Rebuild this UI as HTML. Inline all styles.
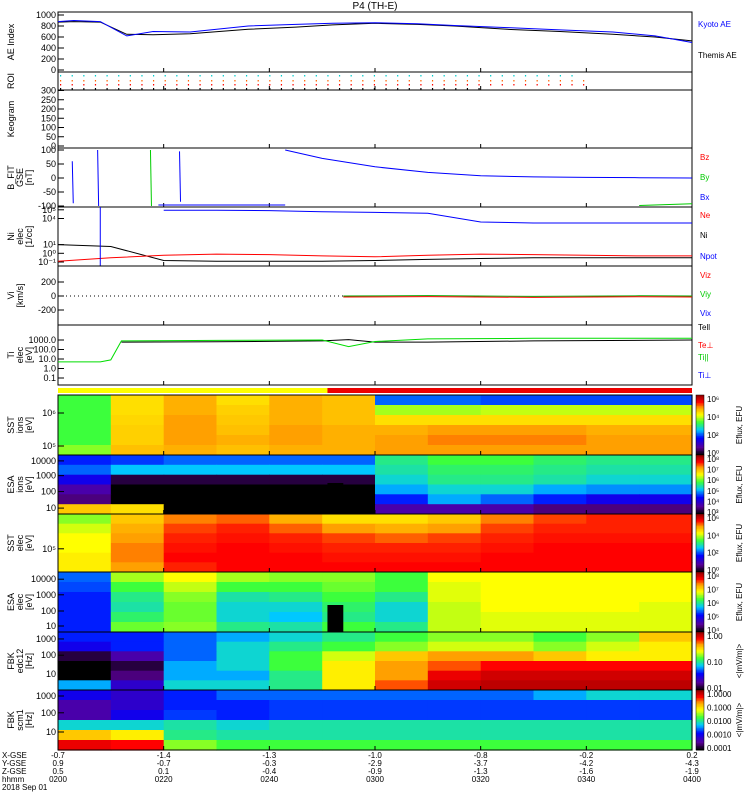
<!DOCTYPE html>
<html><head><meta charset="utf-8"><style>
body{margin:0;background:#fff;}
svg{display:block;font-family:"Liberation Sans",sans-serif;}
</style></head><body>
<svg id="c" width="750" height="800" viewBox="0 0 750 800"></svg>
<script>
const times=[0,10,20,30,40,50,60,70,80,90,100,110,120];
const aeTimes=[0,3,8,13,18,25,36,45,52,60,68,75,85,95,105,113,120];
const aeKyoto=[880,900,880,620,700,690,800,830,850,860,840,810,770,730,690,620,500];
const aeThemis=[870,880,870,650,640,660,740,780,820,850,830,800,740,700,650,600,530];
const niBlack=[10,6,0.15,0.12,0.12,0.12,0.15,0.2,0.25,0.3,0.3,0.3,0.3];
const niRed=[0.12,0.3,0.6,0.8,0.7,0.5,0.4,0.6,0.8,0.7,0.6,0.5,0.5];
const niBlue=[null,null,90000,90000,80000,60000,50000,40000,4000,3000,3000,3000,3000];
const tiTimes=[0,8,10,12,30,50,55,60,70,90,120];
const tiGreen=[5,5,8,800,900,1000,200,700,1300,1500,1500];
const tiBlackTimes=[12,30,50,55,60,70,90,120];
const tiBlack=[600,650,800,1100,600,600,800,1000];
const bxTimes=[43,50,60,70,80,90,100,110,120];
const bxVals=[100,70,40,20,8,4,2,1,0];
const viTimes=[54,70,90,110,120];
const viVals=[0,5,-5,3,0];
const xTickTimes=[0,20,40,60,80,100,120];
const xTickHHMM=["0200","0220","0240","0300","0320","0340","0400"];
const xTickX=["-0.7","-1.4","-1.3","-1.0","-0.8","-0.2","0.2"];
const xTickY=["0.9","-0.7","-0.3","-2.9","-3.7","-4.2","-4.3"];
const xTickZ=["0.5","0.1","-0.4","-0.9","-1.3","-1.6","-1.9"];
const sstIon=[[0.55,0.72,0.78,0.72,0.78,0.76,0.35,0.35,0.33,0.33,0.33,0.33],[0.55,0.72,0.78,0.74,0.78,0.76,0.62,0.62,0.64,0.64,0.64,0.64],[0.55,0.73,0.8,0.75,0.78,0.76,0.72,0.72,0.72,0.72,0.72,0.72],[0.55,0.74,0.8,0.76,0.8,0.78,0.78,0.8,0.8,0.8,0.78,0.78],[0.55,0.74,0.8,0.78,0.8,0.78,0.8,0.82,0.82,0.82,0.8,0.8],[0.6,0.76,0.78,0.76,0.78,0.78,0.8,0.8,0.8,0.8,0.8,0.8]];
const esaIon=[[0.3,0.32,0.35,0.35,0.35,0.35,0.5,0.55,0.55,0.52,0.5,0.5],[0.35,0.42,0.42,0.42,0.42,0.42,0.48,0.52,0.52,0.5,0.48,0.48],[0.25,0.05,0.05,0.05,0.05,0.05,0.45,0.5,0.5,0.48,0.45,0.45],[0.15,0,0,0,0,0,0.4,0.45,0.45,0.4,0.38,0.38],[0.1,0,0,0,0,0,0.3,0.4,0.35,0.3,0.25,0.25],[0.75,0.72,0,0,0,0,0.15,0.15,0.15,0.1,0.1,0.1]];
const sstEle=[[0.6,0.75,0.82,0.84,0.78,0.72,0.72,0.75,0.82,0.86,0.88,0.88],[0.65,0.78,0.86,0.88,0.84,0.8,0.78,0.8,0.86,0.88,0.88,0.88],[0.68,0.8,0.88,0.89,0.88,0.86,0.84,0.86,0.88,0.89,0.89,0.89],[0.68,0.82,0.89,0.9,0.89,0.88,0.88,0.88,0.89,0.9,0.9,0.9],[0.7,0.82,0.9,0.9,0.9,0.89,0.89,0.89,0.9,0.9,0.9,0.9],[0.7,0.8,0.88,0.9,0.9,0.9,0.9,0.9,0.9,0.9,0.9,0.9]];
const esaEle=[[0.35,0.62,0.68,0.62,0.6,0.6,0.55,0.68,0.68,0.68,0.68,0.68],[0.33,0.55,0.64,0.55,0.55,0.58,0.55,0.66,0.68,0.68,0.68,0.68],[0.3,0.5,0.6,0.48,0.5,0.55,0.5,0.66,0.68,0.68,0.68,0.68],[0.3,0.48,0.58,0.45,0.45,0.52,0.45,0.64,0.68,0.68,0.68,0.66],[0.3,0.52,0.58,0.45,0.42,0.5,0.45,0.64,0.66,0.66,0.66,0.66],[0.3,0.58,0.6,0.5,0.48,0.55,0.5,0.64,0.66,0.66,0.66,0.66]];
const fbkEdc=[[0.3,0.3,0.35,0.4,0.45,0.5,0.55,0.6,0.6,0.55,0.6,0.75],[0.25,0.3,0.35,0.45,0.5,0.55,0.6,0.65,0.65,0.6,0.65,0.7],[0.05,0.15,0.35,0.45,0.55,0.65,0.75,0.8,0.8,0.75,0.7,0.7],[0,0.05,0.4,0.45,0.55,0.7,0.8,0.85,0.9,0.9,0.9,0.9],[0,0.1,0.4,0.4,0.5,0.7,0.8,0.92,0.95,0.95,0.95,0.95],[0.4,0.2,0.45,0.45,0.5,0.7,0.85,0.95,0.97,0.97,0.97,0.97]];
const fbkScm=[[0.25,0.2,0.3,0.35,0.35,0.35,0.35,0.35,0.35,0.4,0.45,0.45],[0.15,0.2,0.3,0.3,0.32,0.32,0.32,0.32,0.32,0.32,0.32,0.32],[0.15,0.25,0.32,0.3,0.32,0.32,0.32,0.32,0.32,0.32,0.32,0.32],[0.45,0.45,0.48,0.45,0.48,0.48,0.48,0.48,0.48,0.48,0.48,0.48],[0.75,0.7,0.5,0.48,0.48,0.48,0.48,0.48,0.48,0.48,0.48,0.48],[0.92,0.9,0.6,0.55,0.55,0.55,0.55,0.55,0.55,0.55,0.55,0.55]];

const svg=document.getElementById('c');
const NS='http://www.w3.org/2000/svg';
const X0=58,X1=692;
function x(t){return X0+t*(X1-X0)/120;}
function el(tag,attrs,name,parent){const e=document.createElementNS(NS,tag);for(const k in attrs)e.setAttribute(k,attrs[k]);


(parent||svg).appendChild(e);return e;}
function txt(s,xx,yy,name,opts){opts=opts||{};const t=el('text',{x:xx,y:yy,'font-size':opts.fs||9,fill:opts.fill||'#000','text-anchor':opts.anchor||'start'},name);if(opts.rot)t.setAttribute('transform','rotate(-90 '+xx+' '+yy+')');t.textContent=s;return t;}
const stops=[[0,[0,0,0]],[0.12,[90,0,150]],[0.28,[0,0,255]],[0.42,[0,200,255]],[0.55,[60,255,60]],[0.68,[255,255,0]],[0.8,[255,160,0]],[0.9,[255,0,0]],[1,[160,0,0]]];
function cmap(v){v=Math.max(0,Math.min(1,v));for(let i=1;i<stops.length;i++){if(v<=stops[i][0]){const a=stops[i-1],b=stops[i],f=(v-a[0])/(b[0]-a[0]);return 'rgb('+a[1].map((c,j)=>Math.round(c+(b[1][j]-c)*f)).join(',')+')';}}return 'rgb(160,0,0)';}

txt('P4 (TH-E)',375,9,'plot-title',{anchor:'middle',fs:10});

function frame(y0,y1,name){el('rect',{x:X0,y:y0,width:X1-X0,height:y1-y0,fill:'none',stroke:'#000','stroke-width':1},name);
 xTickTimes.forEach(t=>{el('line',{x1:x(t),x2:x(t),y1:y1,y2:y1-4,stroke:'#000'},'x-tick');});}
function ylab(lines,y0,y1,name){const cy=(y0+y1)/2;lines.forEach((s,i)=>txt(s,14+i*9,cy,name,{rot:1,anchor:'middle',fs:9}));}
function yticks(vals,labels,fn,name){vals.forEach((v,i)=>{const yy=fn(v);el('line',{x1:X0,x2:X0+6,y1:yy,y2:yy,stroke:'#000'},name+'-tick');txt(labels[i],X0-2,yy+3,name+'-label',{anchor:'end'});});}
function poly(ts,vs,fn,color,name){const pts=[];ts.forEach((t,i)=>{if(vs[i]!==null)pts.push(x(t).toFixed(1)+','+fn(vs[i]).toFixed(1));});el('polyline',{points:pts.join(' '),fill:'none',stroke:color,'stroke-width':1},name);}

const aeY=v=>70-v*0.055;
frame(12,72,'ae-panel');ylab(['AE Index'],12,72,'ae-y-title');
yticks([0,200,400,600,800,1000],['0','200','400','600','800','1000'],aeY,'ae');
poly(aeTimes,aeThemis,aeY,'#000','ae-themis-line');poly(aeTimes,aeKyoto,aeY,'#00f','ae-kyoto-line');
txt('Kyoto AE',698,27,'legend-kyoto-ae',{fill:'#00f',fs:8});txt('Themis AE',698,58,'legend-themis-ae',{fs:8});

frame(72,90,'roi-panel');ylab(['ROI'],72,90,'roi-y-title');
[[75,'#0cc',97],[80,'#f60',100],[84,'#f00',100],[88,'#000',80]].forEach(r=>{for(let t=0;t<r[2];t+=2.2)el('rect',{x:x(t)+2,y:r[0],width:1.2,height:1.5,fill:r[1]},'roi-dot');});

const kY=v=>146-v*0.185;
frame(90,148,'keogram-panel');ylab(['Keogram'],90,148,'keogram-y-title');
yticks([0,50,100,150,200,250,300],['0','50','100','150','200','250','300'],kY,'keogram');

const bY=v=>178-v*0.28;
frame(148,207,'bfield-panel');ylab(['B_FIT','GSE','[nT]'],148,207,'bfield-y-title');
yticks([-100,-50,0,50,100],['-100','-50','0','50','100'],bY,'bfield');
[[2.7,60,-90,'#00f'],[7.5,100,-100,'#00f'],[17.5,100,-100,'#0c0'],[23,95,-85,'#00f']].forEach(l=>el('line',{x1:x(l[0]),x2:x(l[0])+1,y1:bY(l[1]),y2:bY(l[2]),stroke:l[3]},'bfield-spike'));
el('line',{x1:x(19),x2:x(43),y1:bY(-100)-1,y2:bY(-100)-1,stroke:'#00f'},'bx-clipped');
poly(bxTimes,bxVals,bY,'#00f','bx-line');
el('line',{x1:x(110),x2:X1,y1:bY(-98),y2:bY(-92),stroke:'#0c0'},'by-line');
txt('Bz',700,160,'legend-bz',{fill:'#f00',fs:8});txt('By',700,180,'legend-by',{fill:'#0c0',fs:8});txt('Bx',700,200,'legend-bx',{fill:'#00f',fs:8});

const nY=v=>262-(Math.log10(v)+1)*8.7;
frame(207,266,'density-panel');ylab(['Ni','elec','[1/cc]'],207,266,'density-y-title');
yticks([0.1,1,10,1e4,1e5],['10\u207B\u00B9','10\u2070','10\u00B9','10\u2074','10\u2075'],nY,'density');
poly(times,niBlack,nY,'#000','ni-line');poly(times,niRed,nY,'#f00','ne-line');poly(times,niBlue,nY,'#00f','npot-line');
el('line',{x1:x(8),x2:x(8),y1:207,y2:266,stroke:'#00f'},'npot-spike');
txt('Ne',700,218,'legend-ne',{fill:'#f00',fs:8});txt('Ni',700,238,'legend-ni',{fs:8});txt('Npot',700,259,'legend-npot',{fill:'#00f',fs:8});

const vY=v=>296-v*0.07;
frame(266,325,'velocity-panel');ylab(['Vi','[km/s]'],266,325,'velocity-y-title');
yticks([-200,0,200],['-200','0','200'],vY,'velocity');
el('line',{x1:X0,x2:x(54),y1:vY(0),y2:vY(0),stroke:'#000','stroke-dasharray':'1,3'},'vi-zero-line');
poly(viTimes,viVals,vY,'#0a0','viy-line');
el('polyline',{points:viTimes.map((t,i)=>x(t)+','+(vY(viVals[i])+1)).join(' '),fill:'none',stroke:'#f00'},'viz-line');
txt('Viz',700,278,'legend-viz',{fill:'#f00',fs:8});txt('Viy',700,297,'legend-viy',{fill:'#0c0',fs:8});txt('Vix',700,316,'legend-vix',{fill:'#00f',fs:8});

const tY=v=>378-(Math.log10(v)+1)*9.5;
frame(325,385,'temperature-panel');ylab(['Ti','elec','[eV]'],325,385,'temperature-y-title');
yticks([0.1,1,10,100,1000],['0.1','1.0','10.0','100.0','1000.0'],tY,'temperature');
poly(tiBlackTimes,tiBlack,tY,'#000','te-line');poly(tiTimes,tiGreen,tY,'#0d0','ti-line');
txt('Tell',698,330,'legend-tell',{fs:8});txt('Te\u22A5',698,348,'legend-teperp',{fill:'#f00',fs:8});txt('Ti||',698,360,'legend-tipar',{fill:'#0c0',fs:8});txt('Ti\u22A5',698,378,'legend-tiperp',{fill:'#00f',fs:8});

el('rect',{x:X0,y:388,width:x(51)-X0,height:5,fill:'#ff0'},'mode-strip-slow');
el('rect',{x:x(51),y:388,width:X1-x(51),height:5,fill:'#e00'},'mode-strip-fast');

function spec(data,y0,y1,name,title,ticks,cbLabels,unit){
 const nr=data.length,nc=data[0].length,h=(y1-y0)/nr,w=(X1-X0)/nc;
 data.forEach((row,r)=>row.forEach((v,c)=>{el('rect',{x:(X0+c*w).toFixed(1),y:(y0+r*h).toFixed(1),width:(w+0.6).toFixed(1),height:(h+0.6).toFixed(1),fill:cmap(v)},name+'-cell');}));
 frame(y0,y1,name+'-panel');ylab(title,y0,y1,name+'-y-title');
 ticks.forEach(tk=>{const yy=y0+tk[1]*(y1-y0);txt(tk[0],X0-2,yy+3,name+'-label',{anchor:'end'});el('line',{x1:X0,x2:X0+6,y1:yy,y2:yy,stroke:'#000'},name+'-tick');});
 const g=40;for(let i=0;i<g;i++)el('rect',{x:696,y:y1-(i+1)*(y1-y0)/g,width:8,height:(y1-y0)/g+0.5,fill:cmap(i/(g-1))},name+'-colorbar');
 el('rect',{x:696,y:y0,width:8,height:y1-y0,fill:'none',stroke:'#000','stroke-width':0.5},name+'-colorbar-frame');
 cbLabels.forEach((s,i)=>txt(s,707,y1-2-i*(y1-y0-6)/(cbLabels.length-1)+3,name+'-cb-label',{fs:8}));
 txt(unit,742,(y0+y1)/2,name+'-cb-title',{rot:1,anchor:'middle',fs:8});
}
spec(sstIon,395,455,'sst-ion',['SST','ions','[eV]'],[['10\u2076',0.3],['10\u2075',0.85]],['10\u2070','10\u00B2','10\u2074','10\u2076'],'Eflux, EFU');
spec(esaIon,455,514,'esa-ion',['ESA','ions','[eV]'],[['10000',0.1],['1000',0.35],['100',0.62],['10',0.9]],['10\u00B3','10\u2074','10\u2075','10\u2076','10\u2077','10\u2078'],'Eflux, EFU');
spec(sstEle,514,572,'sst-ele',['SST','elec','[eV]'],[['10\u2075',0.6]],['10\u2070','10\u00B2','10\u2074','10\u2076'],'Eflux, EFU');
spec(esaEle,572,632,'esa-ele',['ESA','elec','[eV]'],[['10000',0.12],['1000',0.38],['100',0.65],['10',0.9]],['10\u2074','10\u2075','10\u2076','10\u2077','10\u2078'],'Eflux, EFU');
spec(fbkEdc,632,690,'fbk-edc',['FBK','edc12','[Hz]'],[['1000',0.12],['100',0.4],['10',0.72]],['0.01','0.10','1.00'],'<|mV/m|>');
spec(fbkScm,690,750,'fbk-scm',['FBK','scm1','[Hz]'],[['1000',0.1],['100',0.38],['10',0.7]],['0.0001','0.0010','0.0100','0.1000','1.0000'],'<|mV/m|>');
el('rect',{x:x(51),y:605,width:x(54)-x(51),height:27,fill:'#000'},'esa-ele-gap');
el('rect',{x:x(51),y:483,width:x(54)-x(51),height:31,fill:'#000'},'esa-ion-gap');

const rows=[['X-GSE',xTickX],['Y-GSE',xTickY],['Z-GSE',xTickZ],['hhmm',xTickHHMM]];
rows.forEach((r,i)=>{const yy=758+i*8;txt(r[0],2,yy,'x-axis-row-title',{fs:8});r[1].forEach((s,j)=>txt(s,x(xTickTimes[j]),yy,'x-tick-label',{anchor:'middle',fs:8}));});
txt('2018 Sep 01',2,790,'date-label',{fs:8});
</script>
</body></html>
